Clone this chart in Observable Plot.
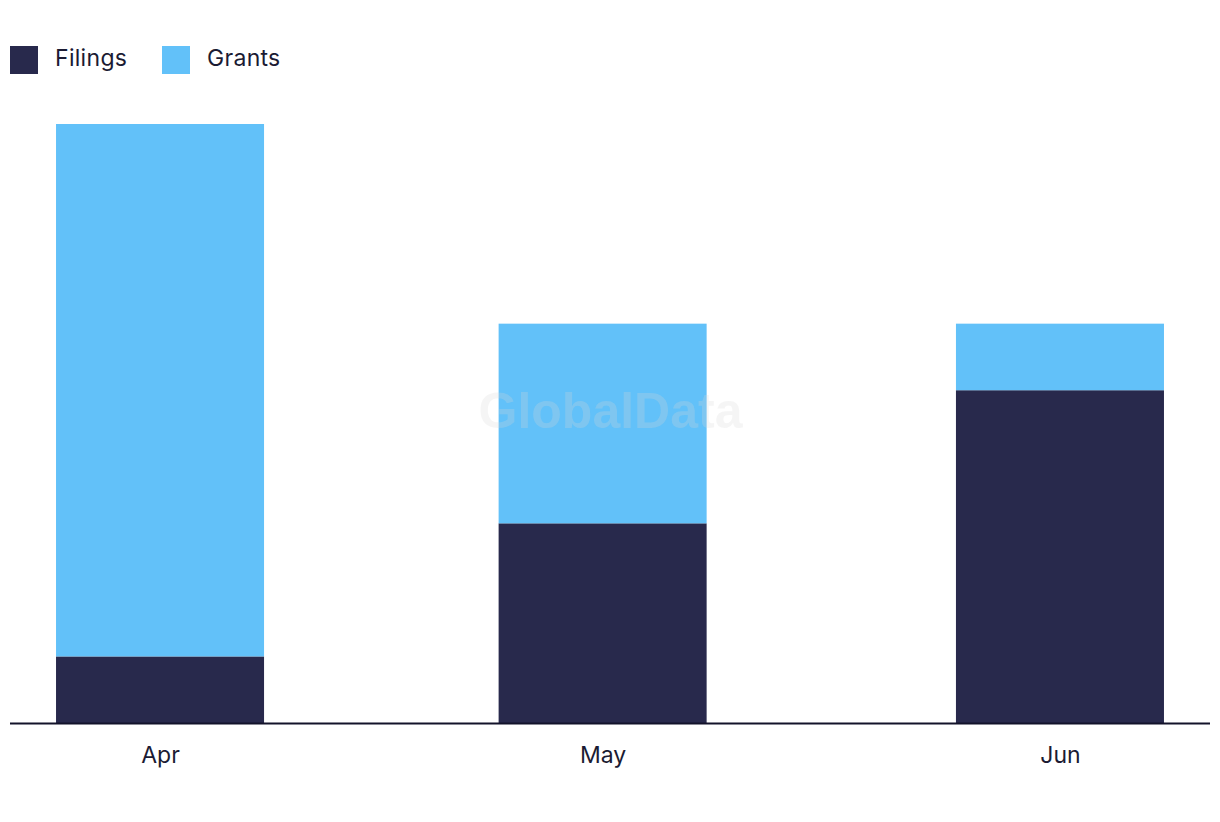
<!DOCTYPE html>
<html>
<head>
<meta charset="utf-8">
<script src="https://cdn.jsdelivr.net/npm/d3@7"></script>
<script src="https://cdn.jsdelivr.net/npm/@observablehq/plot@0.6"></script>
<style>
  body { margin: 0; background: #fff; font-family: Inter, "Open Sans", sans-serif; color: #1b1b33; }
  #legend { height: 100px; position: relative; }
  .item { position: absolute; top: 46px; display: flex; align-items: center; font-size: 23px; letter-spacing: 0.3px; }
  .item span { position: relative; top: -2px; }
  .sw { width: 28px; height: 28px; margin-right: 17px; }
  #chart svg { display: block; }
</style>
</head>
<body>
<div id="legend"></div>
<div id="chart"></div>
<script>
const months = ["2023-04-01", "2023-05-01", "2023-06-01"];
const seriesNames = ["Filings", "Grants"];
const seriesColors = ["#28294c", "#62c1f9"];
const filings = [1, 3, 5];
const grants = [8, 3, 1];

const dates = months.map(d => new Date(d + "T00:00:00Z"));
const day = 24 * 3600 * 1000;
const rows = [];
dates.forEach((d, i) => {
  rows.push({date: d, series: "Filings", value: filings[i]});
  rows.push({date: d, series: "Grants", value: grants[i]});
});

// legend
const legend = document.getElementById("legend");
const lefts = [10, 162];
seriesNames.forEach((s, i) => {
  const it = document.createElement("div");
  it.className = "item";
  it.style.left = lefts[i] + "px";
  it.innerHTML = `<div class="sw" style="background:${seriesColors[i]}"></div><span>${s}</span>`;
  legend.appendChild(it);
});

const chart = Plot.plot({
  width: 1220,
  height: 703,
  marginLeft: 10,
  marginRight: 10,
  marginTop: 24,
  marginBottom: 80,
  style: {fontFamily: "Inter, 'Open Sans', sans-serif", fontSize: "22px", color: "#1b1b33", background: "#fff"},
  x: {type: "utc", domain: [new Date(+dates[0] - 10.17 * day), new Date(+dates[dates.length - 1] + 10.17 * day)]},
  y: {domain: [0, 9]},
  color: {domain: seriesNames, range: seriesColors},
  marks: [
    Plot.rectY(rows, {
      x1: d => new Date(+d.date - 7.05 * day),
      x2: d => new Date(+d.date + 7.05 * day),
      y: "value",
      fill: "series"
    }),
    Plot.text(["GlobalData"], {
      frameAnchor: "middle", dy: -12, text: d => d,
      fontSize: 50, fontWeight: "bold", fill: "#d8d8d8", fillOpacity: 0.25,
      fontFamily: "Liberation Sans, Arial, sans-serif"
    }),
    Plot.ruleY([0], {stroke: "#13132a", strokeWidth: 2}),
    Plot.axisX({ticks: dates, tickFormat: d3.utcFormat("%b"), tickSize: 0, tickPadding: 23, fontSize: 23, label: null}),
    Plot.axisY({ticks: [], label: null, tickSize: 0})
  ]
});
document.getElementById("chart").appendChild(chart);
</script>
</body>
</html>
